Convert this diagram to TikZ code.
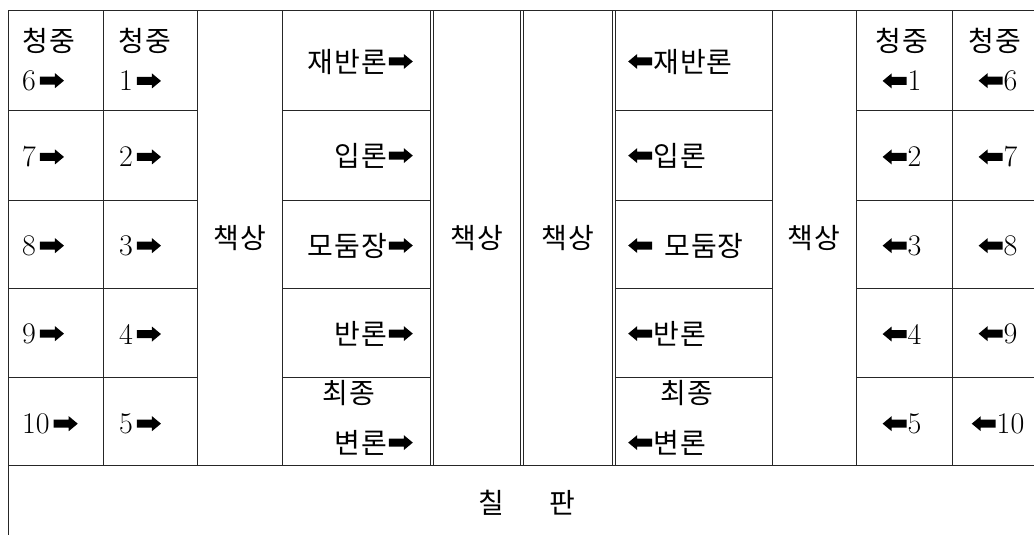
\documentclass[tikz,border=0pt]{standalone}
\usepackage{fontspec}
\newfontfamily\kr[LetterSpace=4]{Noto Sans CJK KR}
\newfontfamily\krb{Noto Sans CJK KR}
\newcommand{\kfont}{\kr\fontsize{28pt}{32pt}\selectfont}
\newcommand{\lfont}{\fontsize{30pt}{34pt}\selectfont}
\newcommand{\RA}[1][10pt]{\tikz[baseline=-#1,x=1pt,y=1pt]\fill (0,-4)--(15,-4)--(15,-7.5)--(24,0)--(15,7.5)--(15,4)--(0,4)--cycle;}
\newcommand{\LA}[1][10pt]{\tikz[baseline=-#1,x=1pt,y=1pt]\fill (24,-4)--(9,-4)--(9,-7.5)--(0,0)--(9,7.5)--(9,4)--(24,4)--cycle;}
\begin{document}
\begin{tikzpicture}[x=1pt,y=-1pt,
  ln/.style={draw=black!85, line width=1pt},
  lm/.style={inner sep=0pt, font=\lfont},
  ko/.style={inner sep=0pt, font=\kfont}]
\useasboundingbox (0,0) rectangle (1034,535);
% grid
\draw[ln] (8,11) -- (1034,11);
\draw[ln] (8,465) -- (1034,465);
\foreach \y in {110,200,288,377} {
  \draw[ln] (8,\y) -- (197,\y);
  \draw[ln] (282,\y) -- (430,\y);
  \draw[ln] (615,\y) -- (772,\y);
  \draw[ln] (856,\y) -- (1034,\y);
}
\draw[ln] (8,11) -- (8,535);
\foreach \x in {103,197,282,430,433,520,523,612,615,772,856,952}
  \draw[ln] (\x,11) -- (\x,465);
% column 1
\node[ko, anchor=west] (c1h) at (22,41) {청중};
\node[lm, anchor=west] (c1a) at (22,81) {6\hspace{4pt}\RA};
\node[lm, anchor=west] (c1b) at (22,157) {7\hspace{4pt}\RA};
\node[lm, anchor=west] (c1c) at (22,246) {8\hspace{4pt}\RA};
\node[lm, anchor=west] (c1d) at (22,334) {9\hspace{4pt}\RA};
\node[lm, anchor=west] (c1e) at (22,424) {10\hspace{4pt}\RA};
% column 2
\node[ko, anchor=west] (c2h) at (118,41) {청중};
\node[lm, anchor=west] (c2a) at (119,81) {1\hspace{4pt}\RA};
\node[lm, anchor=west] (c2b) at (119,157) {2\hspace{4pt}\RA};
\node[lm, anchor=west] (c2c) at (119,246) {3\hspace{4pt}\RA};
\node[lm, anchor=west] (c2d) at (119,334) {4\hspace{4pt}\RA};
\node[lm, anchor=west] (c2e) at (119,424) {5\hspace{4pt}\RA};
% desks
\node[ko] (d1) at (240,238) {책상};
\node[ko] (d2) at (477,238) {책상};
\node[ko] (d3) at (568,238) {책상};
\node[ko] (d4) at (814,238) {책상};
% column 4
\node[ko, anchor=east] (c4a) at (413,62) {재반론\hspace{2pt}\RA[11pt]};
\node[ko, anchor=east] (c4b) at (413,156) {입론\hspace{2pt}\RA[11pt]};
\node[ko, anchor=east] (c4c) at (413,246) {모둠장\hspace{2pt}\RA[11pt]};
\node[ko, anchor=east] (c4d) at (413,334) {반론\hspace{2pt}\RA[11pt]};
\node[ko] (c4e) at (349,393) {최종};
\node[ko, anchor=east] (c4f) at (413,443) {변론\hspace{2pt}\RA[11pt]};
% column 7
\node[ko, anchor=west] (c7a) at (628,62) {\LA[11pt]\hspace{1pt}재반론};
\node[ko, anchor=west] (c7b) at (628,156) {\LA[11pt]\hspace{1pt}입론};
\node[ko, anchor=west] (c7c) at (628,246) {\LA[11pt]\hspace{12pt}모둠장};
\node[ko, anchor=west] (c7d) at (628,334) {\LA[11pt]\hspace{1pt}반론};
\node[ko] (c7e) at (687,393) {최종};
\node[ko, anchor=west] (c7f) at (628,443) {\LA[11pt]\hspace{1pt}변론};
% column 9
\node[ko] (c9h) at (902,41) {청중};
\node[lm] (c9a) at (902,81) {\LA\hspace{1pt}1};
\node[lm] (c9b) at (902,157) {\LA\hspace{1pt}2};
\node[lm] (c9c) at (902,246) {\LA\hspace{1pt}3};
\node[lm] (c9d) at (902,334) {\LA\hspace{1pt}4};
\node[lm] (c9e) at (902,424) {\LA\hspace{1pt}5};
% column 10
\node[ko] (c10h) at (995,41) {청중};
\node[lm] (c10a) at (998,81) {\LA\hspace{1pt}6};
\node[lm] (c10b) at (998,157) {\LA\hspace{1pt}7};
\node[lm] (c10c) at (998,246) {\LA\hspace{1pt}8};
\node[lm] (c10d) at (998,334) {\LA\hspace{1pt}9};
\node[lm] (c10e) at (998,424) {\LA\hspace{1pt}10};
% blackboard
\node[inner sep=0pt, font=\krb\fontsize{28pt}{32pt}\selectfont] (board) at (526.5,503) {칠\hspace{45pt}판};
\end{tikzpicture}
\end{document}
